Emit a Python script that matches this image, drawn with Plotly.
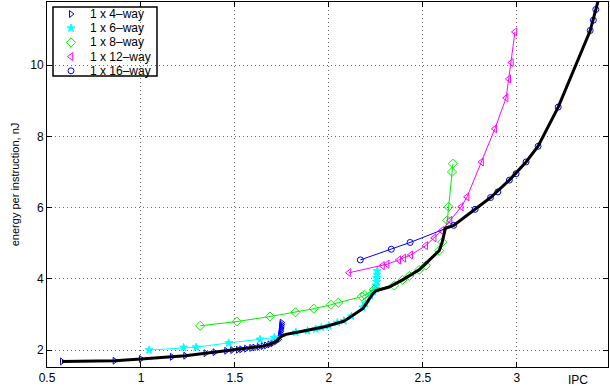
import plotly.graph_objects as go

# ---- data (IPC, energy per instruction in nJ) ----
ipc_4way = [0.58, 0.86, 1.00, 1.165, 1.236, 1.344, 1.392, 1.454, 1.486, 1.516, 1.534, 1.56,
            1.587, 1.604, 1.627, 1.648, 1.666, 1.684, 1.70, 1.72, 1.733, 1.74, 1.742, 1.744,
            1.745, 1.746, 1.747, 1.748, 1.749]
epi_4way = [1.68, 1.70, 1.75, 1.81, 1.84, 1.91, 1.94, 1.98, 2.00, 2.01, 2.02, 2.04,
            2.06, 2.07, 2.09, 2.11, 2.13, 2.16, 2.19, 2.25, 2.30, 2.40, 2.46, 2.52,
            2.57, 2.62, 2.67, 2.72, 2.77]

ipc_6way = [1.043, 1.227, 1.294, 1.467, 1.634, 1.71, 1.824, 1.886, 1.93, 1.96, 2.0, 2.045,
            2.08, 2.12, 2.18, 2.195, 2.22, 2.235, 2.25, 2.252, 2.254, 2.255, 2.256, 2.257]
epi_6way = [2.00, 2.07, 2.08, 2.20, 2.30, 2.35, 2.50, 2.54, 2.59, 2.63, 2.68, 2.77,
            2.82, 2.95, 3.20, 3.31, 3.53, 3.64, 3.72, 3.82, 3.92, 4.02, 4.12, 4.22]

ipc_8way = [1.315, 1.51, 1.687, 1.822, 1.92, 2.011, 2.05, 2.175, 2.19, 2.24, 2.348, 2.392,
            2.428, 2.48, 2.516, 2.587, 2.603, 2.63, 2.637, 2.655, 2.66]
epi_8way = [2.68, 2.80, 2.94, 3.06, 3.16, 3.27, 3.33, 3.50, 3.55, 3.70, 3.81, 3.97,
            4.08, 4.25, 4.37, 4.79, 5.03, 5.64, 6.02, 7.00, 7.23]

ipc_12way = [2.107, 2.285, 2.31, 2.372, 2.399, 2.436, 2.515, 2.56, 2.60, 2.645, 2.704, 2.735,
             2.812, 2.883, 2.943, 2.957, 2.971, 2.99]
epi_12way = [4.17, 4.37, 4.41, 4.53, 4.58, 4.67, 4.93, 5.15, 5.35, 5.64, 6.02, 6.30,
             7.28, 8.21, 9.08, 9.61, 10.07, 10.93]

ipc_16way = [2.167, 2.332, 2.432, 2.664, 2.778, 2.86, 2.899, 2.96, 2.996, 3.049, 3.113, 3.22,
             3.39, 3.407, 3.42]
epi_16way = [4.53, 4.83, 5.02, 5.50, 5.95, 6.28, 6.44, 6.77, 6.95, 7.28, 7.72, 8.82,
             10.97, 11.26, 11.56]

ipc_frontier = [0.58, 0.86, 1.00, 1.165, 1.236, 1.344, 1.392, 1.454, 1.486, 1.516, 1.56, 1.604,
                1.648, 1.684, 1.72, 1.745, 1.772, 1.86, 1.984, 2.08, 2.18, 2.235, 2.25, 2.32,
                2.392, 2.48, 2.587, 2.603, 2.62, 2.664, 2.778, 2.86, 2.96, 3.049, 3.113, 3.22,
                3.39, 3.42, 3.44]
epi_frontier = [1.68, 1.70, 1.75, 1.81, 1.84, 1.91, 1.94, 1.98, 2.00, 2.01, 2.04, 2.07,
                2.11, 2.16, 2.25, 2.38, 2.44, 2.53, 2.66, 2.81, 3.16, 3.59, 3.66, 3.77,
                3.97, 4.25, 4.79, 5.03, 5.42, 5.50, 5.95, 6.28, 6.77, 7.28, 7.72, 8.82,
                10.96, 11.56, 11.95]

series_names = ["1 x 4–way", "1 x 6–way", "1 x 8–way", "1 x 12–way", "1 x 16–way"]
x_ticks = [0.5, 1, 1.5, 2, 2.5, 3]
x_ticklabels = ["0.5", "1", "1.5", "2", "2.5", "3"]
y_ticks = [2, 4, 6, 8, 10]

FONT = "Liberation Sans, Arial, sans-serif"

series = [
    (ipc_4way, epi_4way, "#0000ff", "triangle-right-open", 6),
    (ipc_6way, epi_6way, "#00ffff", "star", 6),
    (ipc_8way, epi_8way, "#00ee00", "diamond-open", 7),
    (ipc_12way, epi_12way, "#ff00ff", "triangle-left-open", 7),
    (ipc_16way, epi_16way, "#0000ff", "circle-open", 6),
]

# plot-area geometry in pixels (for placing the compact legend)
W, H = 610, 389
ML, MR, MT, MB = 47, 2, 2, 22
PW, PH = W - ML - MR, H - MT - MB


def px_to_paper(xp, yp):
    return (xp - ML) / PW, 1 - (yp - MT) / PH


fig = go.Figure()
for (xs, ys, col, sym, sz), name in zip(series, series_names):
    fig.add_trace(go.Scatter(
        x=xs, y=ys, mode="lines+markers", name=name, showlegend=False,
        line=dict(color=col, width=1),
        marker=dict(symbol=sym, size=sz, color=col, line=dict(color=col, width=1)),
    ))

fig.add_trace(go.Scatter(
    x=ipc_frontier, y=epi_frontier, mode="lines", showlegend=False,
    line=dict(color="black", width=3),
))

# compact legend (MATLAB style): box, marker samples, labels
box_x0, box_y1 = px_to_paper(53, 7)
box_x1, box_y0 = px_to_paper(157, 76)
shapes = [dict(type="rect", xref="paper", yref="paper", x0=box_x0, x1=box_x1,
               y0=box_y0, y1=box_y1, line=dict(color="black", width=1.5),
               fillcolor="white", layer="between")]
annotations = []
row_y = [14 + 14.2 * i for i in range(len(series_names))]
leg_mx = [px_to_paper(71, yy)[0] for yy in row_y]
leg_my = [px_to_paper(71, yy)[1] for yy in row_y]
for i, ((xs, ys, col, sym, sz), name) in enumerate(zip(series, series_names)):
    fig.add_trace(go.Scatter(
        x=[leg_mx[i]], y=[leg_my[i]], xaxis="x2", yaxis="y2", mode="markers",
        showlegend=False, hoverinfo="skip", cliponaxis=False,
        marker=dict(symbol=sym, size=sz, color=col, line=dict(color=col, width=1)),
    ))
    tx, ty = px_to_paper(88, row_y[i])
    annotations.append(dict(x=tx, y=ty, xref="paper", yref="paper", xanchor="left",
                            yanchor="middle", text=name, showarrow=False,
                            font=dict(family=FONT, size=12, color="black")))

annotations.append(dict(x=3.325, y=0, xref="x", yref="paper", yanchor="top", yshift=-4,
                        text="IPC", showarrow=False, font=dict(family=FONT, size=12)))

axis_common = dict(
    showline=True, linecolor="black", linewidth=1, mirror="ticks",
    ticks="inside", ticklen=5, tickcolor="black",
    showgrid=True, gridcolor="#666666", griddash="1px,3px", gridwidth=1,
    zeroline=False, tickfont=dict(family=FONT, size=12, color="black"),
)

fig.update_layout(
    width=W, height=H,
    margin=dict(l=ML, r=MR, t=MT, b=MB),
    paper_bgcolor="white", plot_bgcolor="white",
    font=dict(family=FONT, size=12, color="black"),
    showlegend=False,
    xaxis=dict(range=[0.5, 3.485], tickvals=x_ticks, ticktext=x_ticklabels, **axis_common),
    yaxis=dict(range=[1.524, 11.77], tickvals=y_ticks,
               title=dict(text="energy per instruction, nJ", font=dict(family=FONT, size=11),
                          standoff=8),
               **axis_common),
    xaxis2=dict(overlaying="x", range=[0, 1], visible=False, fixedrange=True),
    yaxis2=dict(overlaying="y", range=[0, 1], visible=False, fixedrange=True),
    shapes=shapes,
    annotations=annotations,
)

fig.write_html("out.html")
